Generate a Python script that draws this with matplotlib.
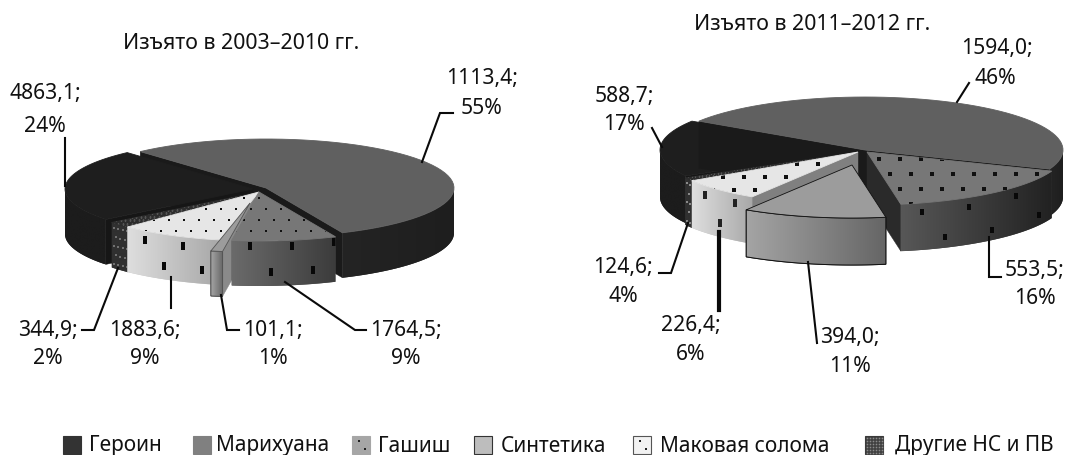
import numpy as np
import matplotlib
matplotlib.use('Agg')
import matplotlib.pyplot as plt
from matplotlib.colors import to_rgb
from matplotlib.patches import Polygon, Rectangle

plt.rcParams['font.family'] = ['Noto Sans', 'DejaVu Sans']

categories = ['Героин', 'Марихуана', 'Гашиш', 'Синтетика', 'Маковая солома', 'Другие НС и ПВ']
left_values = [4863.1, 1113.4, 1764.5, 101.1, 1883.6, 344.9]
left_pct = [24, 55, 9, 1, 9, 2]
right_values = [588.7, 1594.0, 553.5, 394.0, 226.4, 124.6]
right_pct = [17, 46, 16, 11, 6, 4]
# share of the circle the slices really take up in the right pie
right_drawn = [17.3, 46.7, 16.4, 11.7, 6.9, 1.0]

# clockwise order of the slices, starting from the marijuana one
slice_order = [1, 2, 3, 4, 5, 0]

top_colors = ['#1e1e1e', '#606060', '#777777', '#9c9c9c', '#e6e6e6', '#2c2c2c']
side_colors = [('#1c1c1c', '#1c1c1c'), ('#242424', '#1e1e1e'), ('#6a6a6a', '#3c3c3c'),
               ('#a4a4a4', '#666666'), ('#dedede', '#a8a8a8'), ('#303030', '#303030')]
wall_colors = ['#161616', '#1a1a1a', '#2a2a2a', '#8a8a8a', '#808080', '#222222']

fig = plt.figure(figsize=(10.65, 4.55), dpi=100)
ax = fig.add_axes([0, 0, 1, 1])
ax.axis('off')

order_z = [10]
tall_dot = [(-0.5, -1), (0.5, -1), (0.5, 1), (-0.5, 1), (-0.5, -1)]


def next_z():
    order_z[0] += 1
    return order_z[0]


def arc(cx, cy, rx, ry, a0, a1, n=60):
    t = np.radians(np.linspace(a0, a1, n))
    return cx + rx * np.cos(t), cy - ry * np.sin(t)


def draw_slice(i, cx, cy, rx, ry, depth, a0, a1, opts):
    # radial walls, those turned to the viewer only
    for a, normal in ((a0, a0 + 90), (a1, a1 - 90)):
        if np.sin(np.radians(normal)) < 0:
            ex, ey = arc(cx, cy, rx, ry, a, a, 1)
            pts = [(cx, cy), (ex[0], ey[0]), (ex[0], ey[0] + depth), (cx, cy + depth)]
            ax.add_patch(Polygon(pts, fc=wall_colors[i], ec=wall_colors[i], lw=0.3, zorder=next_z()))

    # outer wall with a left to right shading
    t = np.linspace(a0, a1, 121)
    t = t[np.sin(np.radians(t)) <= 0.001]
    if len(t) > 1:
        x, y = arc(cx, cy, rx, ry, t[0], t[-1], len(t))
        if x[0] > x[-1]:
            x, y = x[::-1], y[::-1]
        shade = opts.get('shade', side_colors[i])
        c0, c1 = np.array(to_rgb(shade[0])), np.array(to_rgb(shade[1]))
        outline = list(zip(x, y)) + list(zip(x[::-1], y[::-1] + depth))
        z = next_z()
        side = Polygon(outline, fc=(c0 + c1) / 2, ec=opts.get('edge', 'none'), lw=0.7, zorder=z)
        ax.add_patch(side)
        grad = np.linspace(c0, c1, 64)[np.newaxis, :, :]
        im = ax.imshow(grad, extent=(x[0], x[-1], y.max() + depth, y.min()), aspect='auto',
                       interpolation='bilinear', zorder=z)
        im.set_clip_path(side)
        if opts.get('edge'):
            ax.add_patch(Polygon(outline, fc='none', ec=opts['edge'], lw=0.7, zorder=next_z()))
        if opts.get('side'):
            step, size, color, rows, marker = opts['side']
            sx, sy = [], []
            for r, frac in enumerate(rows):
                px = np.arange(x[0] + step * (0.45 + 0.5 * (r % 2)), x[-1], step)
                sx += list(px)
                sy += list(np.interp(px, x, y) + depth * frac)
            line, = ax.plot(sx, sy, linestyle='none', marker=marker, color=color, ms=size, mew=0, zorder=next_z())
            line.set_clip_path(side)

    # top face
    x, y = arc(cx, cy, rx, ry, a0, a1)
    top = Polygon([(cx, cy)] + list(zip(x, y)), fc=top_colors[i], ec=opts.get('edge', top_colors[i]),
                  lw=0.6, zorder=next_z())
    ax.add_patch(top)
    if opts.get('top'):
        step_x, step_y, size, color = opts['top']
        xs = np.arange(cx - rx - step_x, cx + rx + step_x, step_x)
        gx, gy = [], []
        for r, row in enumerate(np.arange(cy - ry, cy + ry, step_y)):
            gx += list(xs + (step_x / 2 if r % 2 else 0))
            gy += [row] * len(xs)
        line, = ax.plot(gx, gy, 's', color=color, ms=size, mew=0, zorder=next_z())
        line.set_clip_path(top)


def draw_pie(cx, cy, rx, ry, depth, start, shares, offsets, opts, draw_order):
    angles = {}
    a = start
    for i in slice_order:
        angles[i] = (a, a - shares[i] * 3.6)
        a = angles[i][1]
    for i in draw_order:
        draw_slice(i, cx + offsets[i][0], cy + offsets[i][1], rx, ry, depth, angles[i][0], angles[i][1], opts[i])


left_offsets = [(-9, 1), (4, 0), (-3, 4), (-12, 15), (-3, 4), (-3, 4)]
left_opts = [
    {},
    {},
    {'top': (15, 11, 2.0, '#101010'), 'side': (42, 6, '#080808', (0.12, 0.7), tall_dot)},
    {'edge': '#555555'},
    {'top': (15, 11, 2.0, '#101010'), 'side': (38, 6, '#080808', (0.2, 0.7), tall_dot)},
    {'top': (4.5, 3.5, 1.3, '#555555'), 'side': (4.5, 1.8, '#707070', (0.1, 0.3, 0.5, 0.7, 0.9), 's')},
]
draw_pie(262, 188, 188, 49, 45, 132, left_pct, left_offsets, left_opts, [1, 0, 5, 4, 3, 2])

right_offsets = [(-5, 0), (2, 0), (4, 2), (-11, 15), (-5, 2), (-5, 2)]
right_opts = [
    {},
    {},
    {'top': (21, 15, 2.2, '#101010'), 'side': (47, 5, '#080808', (0.2, 0.78), tall_dot),
     'shade': ('#575757', '#222222')},
    {'edge': '#111111'},
    {'top': (21, 13, 2.2, '#101010'), 'side': (30, 6, '#222222', (0.2, 0.7), tall_dot)},
    {'top': (3.5, 3.5, 1.0, '#555555'), 'side': (3.5, 1.8, '#8a8a8a', (0.1, 0.3, 0.5, 0.7, 0.9), 's')},
]
draw_pie(863, 150, 198, 53, 47, 147, right_drawn, right_offsets, right_opts, [0, 1, 5, 4, 2, 3])

ax.set_xlim(0, 1065)
ax.set_ylim(455, 0)


# data labels
def value_label(values, pct, i, x, y1, y2, x2=None):
    ax.text(x, y1 + 1.5, f'{values[i]:.1f}'.replace('.', ',') + ';', ha='center', va='center', fontsize=15.2, color='#111111', zorder=100)
    ax.text(x if x2 is None else x2, y2 + 1, f'{pct[i]}%', ha='center', va='center', fontsize=15.2, color='#111111', zorder=100)


ax.text(241, 43.5, 'Изъято в 2003–2010 гг.', ha='center', va='center', fontsize=15.4, color='#111111')
ax.text(812, 25, 'Изъято в 2011–2012 гг.', ha='center', va='center', fontsize=15.4, color='#111111')

value_label(left_values, left_pct, 0, 45, 92, 125)
value_label(left_values, left_pct, 1, 482, 77, 107)
value_label(left_values, left_pct, 2, 406, 329, 358)
value_label(left_values, left_pct, 3, 273, 329, 358)
value_label(left_values, left_pct, 4, 145, 329, 358)
value_label(left_values, left_pct, 5, 48, 329, 358)

value_label(right_values, right_pct, 0, 624, 95, 123)
value_label(right_values, right_pct, 1, 997, 47, 77, 995)
value_label(right_values, right_pct, 2, 1035, 269, 298)
value_label(right_values, right_pct, 3, 850, 336, 365)
value_label(right_values, right_pct, 4, 691, 324, 354)
value_label(right_values, right_pct, 5, 623, 266, 296)

# leader lines
leaders = [
    ([65, 65], [138, 186], 1.5),
    ([422, 440, 453], [162, 113, 113], 1.5),
    ([118, 94, 82], [268, 330, 330], 1.5),
    ([171, 171], [277, 308], 1.5),
    ([221, 227, 239], [295, 330, 330], 1.5),
    ([285, 355, 366], [282, 330, 330], 1.5),
    ([652, 662], [128, 147], 1.5),
    ([957, 969], [102, 83], 1.5),
    ([688, 671, 659], [223, 273, 273], 1.5),
    ([719, 719], [232, 310], 3),
    ([808, 817], [262, 343], 1.5),
    ([989, 989, 1001], [237, 277, 277], 1.5),
]
for lx, ly, lw in leaders:
    ax.plot(lx, ly, color='#0a0a0a', lw=lw, solid_joinstyle='miter', zorder=90)

# legend
legend_swatch = [63, 193, 352, 474, 633, 865]
legend_text = [89, 216, 378, 501, 660, 895]
legend_fill = ['#333333', '#808080', '#a6a6a6', '#bdbdbd', '#f2f2f2', '#3a3a3a']
legend_edge = ['#333333', '#808080', '#a6a6a6', '#333333', '#555555', '#3a3a3a']
for i, name in enumerate(categories):
    box = Rectangle((legend_swatch[i], 435.5), 18, 18, fc=legend_fill[i], ec=legend_edge[i], lw=0.8, zorder=50)
    ax.add_patch(box)
    ax.text(legend_text[i], 446, name, ha='left', va='center', fontsize=15.0, color='#111111')
    if name == 'Гашиш' or name == 'Маковая солома':
        ax.plot([legend_swatch[i] + 7, legend_swatch[i] + 13], [441, 449], 's', color='#222222', ms=1.6, mew=0, zorder=51)
    if name.startswith('Другие'):
        gx, gy = np.meshgrid(np.arange(legend_swatch[i] + 2, legend_swatch[i] + 18, 3), np.arange(437.5, 453, 3))
        ax.plot(gx.ravel(), gy.ravel(), 's', color='#8a8a8a', ms=1.2, mew=0, zorder=51)

fig.savefig('out.png', dpi=100, facecolor='white')
